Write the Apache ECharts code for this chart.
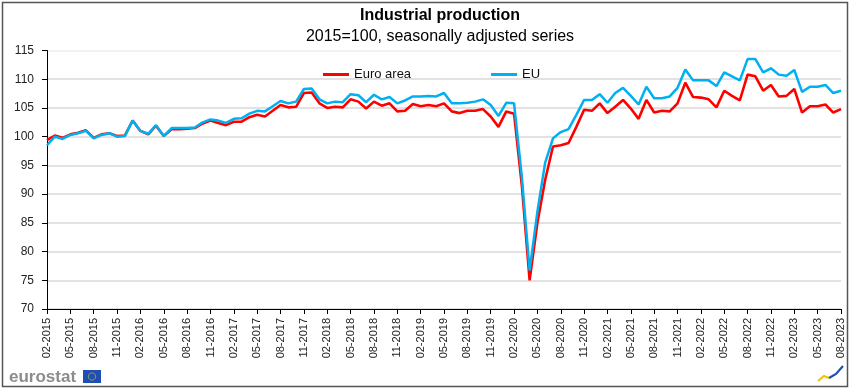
<!DOCTYPE html>
<html>
<head>
<meta charset="utf-8">
<script src="https://cdn.jsdelivr.net/npm/echarts@6/dist/echarts.min.js"></script>
<style>
html,body{margin:0;padding:0;background:#fff;}
#c{width:851px;height:390px;}
</style>
</head>
<body>
<div id="c"></div>
<script>
// ---- Data ----
const titleText = 'Industrial production';
const subtitleText = '2015=100, seasonally adjusted series';
const seriesNames = ['Euro area', 'EU'];
const startYear = 2015, startMonth = 2, monthCount = 103; // 02-2015 .. 08-2023
const yTicks = [70, 75, 80, 85, 90, 95, 100, 105, 110, 115];

const euroArea = [
  99.4, 100.2, 99.8, 100.4, 100.7, 101.1, 99.8, 100.4, 100.6, 100.1,
  100.2, 102.8, 101.0, 100.4, 101.9, 100.1, 101.3, 101.3, 101.4, 101.5,
  102.3, 102.8, 102.4, 102.0, 102.6, 102.6, 103.4, 103.8, 103.5, 104.5,
  105.5, 105.1, 105.2, 107.6, 107.7, 105.8, 105.0, 105.2, 105.1, 106.5,
  106.1, 104.9, 106.1, 105.4, 105.8, 104.4, 104.5, 105.7, 105.3, 105.5,
  105.3, 105.8, 104.4, 104.1, 104.5, 104.5, 104.8, 103.5, 101.7, 104.4,
  104.0, 91.5, 75.0, 85.0, 92.5, 98.3, 98.5, 98.9, 101.7, 104.7,
  104.5, 105.8, 104.1, 105.2, 106.4, 104.9, 103.1, 106.4, 104.2, 104.5,
  104.4, 105.8, 109.4, 106.9, 106.8, 106.5, 105.1, 108.0, 107.1, 106.3,
  110.8, 110.5, 108.0, 109.0, 107.0, 107.1, 108.3, 104.2, 105.3, 105.3,
  105.6, 104.2, 104.8
];
const eu = [
  98.5, 100.0, 99.6, 100.3, 100.6, 101.0, 99.7, 100.3, 100.6, 100.0,
  100.1, 102.8, 101.0, 100.5, 102.0, 100.1, 101.5, 101.5, 101.5, 101.6,
  102.5, 103.0, 102.8, 102.4, 103.1, 103.2, 104.0, 104.5, 104.4, 105.3,
  106.2, 105.8, 106.1, 108.3, 108.4, 106.5, 105.8, 106.1, 106.0, 107.4,
  107.2, 106.0, 107.3, 106.5, 106.9, 105.8, 106.3, 107.0, 107.0, 107.1,
  107.0, 107.6, 105.8, 105.8, 105.9, 106.1, 106.5, 105.5, 103.6, 105.9,
  105.8, 93.0, 76.7, 87.0, 95.5, 99.7, 100.8, 101.3, 103.8, 106.4,
  106.4, 107.4, 105.9, 107.6, 108.5, 107.1, 105.6, 108.7, 106.7, 106.7,
  107.0, 108.5, 111.7, 109.8, 109.8, 109.8, 108.8, 111.2, 110.5, 109.8,
  113.5, 113.5, 111.2, 111.9, 110.8, 110.6, 111.6, 107.8, 108.7, 108.7,
  109.0, 107.6, 108.0
];

// category labels (MM-YYYY)
const months = [];
for (let k = 0; k < monthCount; k++) {
  const m0 = startMonth - 1 + k;
  const y = startYear + Math.floor(m0 / 12);
  const m = (m0 % 12) + 1;
  months.push((m < 10 ? '0' : '') + m + '-' + y);
}

const FONT = '"Liberation Sans", Arial, sans-serif';
const chart = echarts.init(document.getElementById('c'), null, {renderer: 'canvas'});

chart.setOption({
  animation: false,
  backgroundColor: '#ffffff',
  textStyle: {fontFamily: FONT},
  grid: {left: 47, right: 10, top: 50.5, bottom: 81, containLabel: false},
  legend: {
    left: 318, top: 63,
    itemWidth: 26, itemHeight: 3, itemGap: 80,
    icon: 'rect',
    textStyle: {fontFamily: FONT, fontSize: 13, color: '#111'},
    data: seriesNames
  },
  xAxis: {
    type: 'category',
    data: months,
    boundaryGap: false,
    axisLine: {lineStyle: {color: '#000', width: 1}},
    axisTick: {show: true, interval: 2, length: 5, lineStyle: {color: '#000'}},
    axisLabel: {interval: 2, rotate: 90, fontSize: 11, color: '#222', fontFamily: FONT, margin: 9},
    splitLine: {show: false}
  },
  yAxis: {
    type: 'value',
    min: yTicks[0], max: yTicks[yTicks.length - 1], interval: 5,
    axisLine: {show: true, lineStyle: {color: '#000', width: 1}},
    axisTick: {show: true, length: 5, lineStyle: {color: '#000'}},
    axisLabel: {fontSize: 12, color: '#222', fontFamily: FONT, margin: 13},
    splitLine: {show: true, lineStyle: {color: ['#d9d9d9','#d9d9d9','#d9d9d9','#d9d9d9','#d9d9d9','#d9d9d9','#d9d9d9','#d9d9d9','#d9d9d9','#ececec'], width: 1.5}}
  },
  series: [
    {name: seriesNames[0], type: 'line', data: euroArea, symbol: 'none', smooth: false,
     lineStyle: {color: '#ff0000', width: 2.6}, itemStyle: {color: '#ff0000'}, z: 2},
    {name: seriesNames[1], type: 'line', data: eu, symbol: 'none', smooth: false,
     lineStyle: {color: '#00b0f0', width: 2.5}, itemStyle: {color: '#00b0f0'}, z: 3}
  ],
  graphic: [
    {type: 'rect', shape: {x: 2.5, y: 2.5, width: 845, height: 384}, style: {fill: 'none', stroke: '#555', lineWidth: 1.5}, silent: true},
    {type: 'text', x: 440, y: 16, style: {text: titleText, font: 'bold 16px ' + FONT, fill: '#000', textAlign: 'center', textVerticalAlign: 'middle'}},
    {type: 'text', x: 440, y: 37, style: {text: subtitleText, font: '16px ' + FONT, fill: '#000', textAlign: 'center', textVerticalAlign: 'middle'}},
    {type: 'text', x: 9, y: 377, style: {text: 'eurostat', font: 'bold 17px ' + FONT, fill: '#8c8c8c', textAlign: 'left', textVerticalAlign: 'middle'}},
    {type: 'rect', shape: {x: 83, y: 370, width: 18, height: 13}, style: {fill: '#1f4fb4'}},
    {type: 'circle', shape: {cx: 92, cy: 376.5, r: 3.6}, style: {fill: 'none', stroke: '#ffdd00', lineWidth: 1, lineDash: [1, 1]}},
    {type: 'polyline', shape: {points: [[818, 381], [824, 376], [829, 378]]}, style: {stroke: '#f5c400', lineWidth: 2.2, fill: 'none'}},
    {type: 'polyline', shape: {points: [[829, 378], [836, 374], [843, 366]]}, style: {stroke: '#1f4fb4', lineWidth: 2.2, fill: 'none'}}
  ]
});
</script>
</body>
</html>
